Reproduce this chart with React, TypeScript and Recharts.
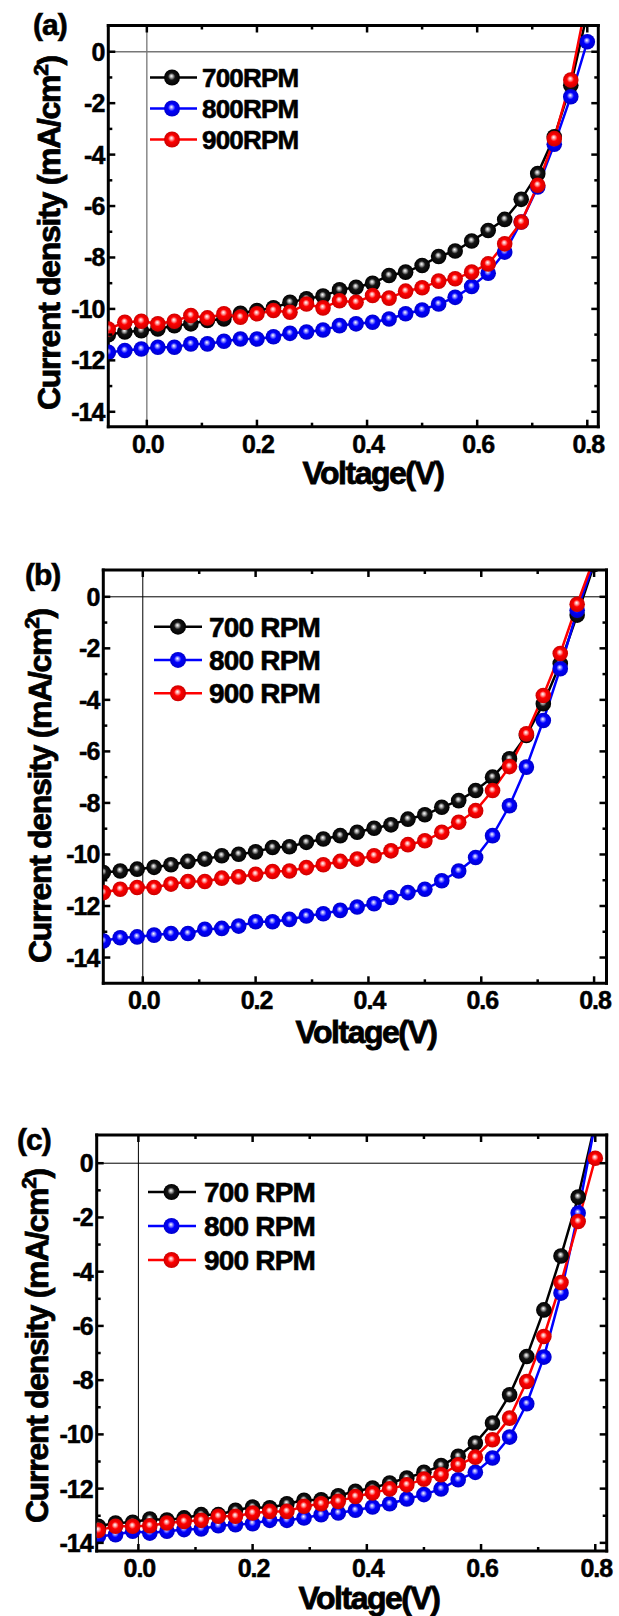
import React from 'react';
import { LineChart, Line, XAxis, YAxis, ReferenceLine, Legend } from 'recharts';

const FONT = '"Liberation Sans", Arial, Helvetica, sans-serif';

// Voltage (V) — shared x categories
const voltage = [-0.07, -0.04, -0.01, 0.02, 0.05, 0.08, 0.11, 0.14, 0.17, 0.2, 0.23, 0.26, 0.29, 0.32, 0.35, 0.38, 0.41, 0.44, 0.47, 0.5, 0.53, 0.56, 0.59, 0.62, 0.65, 0.68, 0.71, 0.74, 0.77, 0.8];

// Panel (a)
const a700 = [-11.0, -10.9, -10.85, -10.78, -10.65, -10.58, -10.45, -10.39, -10.17, -10.06, -9.96, -9.74, -9.61, -9.5, -9.26, -9.16, -9.0, -8.7, -8.57, -8.31, -7.96, -7.75, -7.36, -6.95, -6.52, -5.74, -4.74, -3.31, -1.3, 1.5];
const a800 = [-11.69, -11.62, -11.56, -11.49, -11.49, -11.36, -11.36, -11.26, -11.17, -11.17, -11.08, -10.95, -10.9, -10.82, -10.65, -10.58, -10.52, -10.39, -10.19, -10.04, -9.81, -9.55, -9.13, -8.61, -7.79, -6.62, -5.26, -3.6, -1.75, 0.39];
const a900 = [-10.78, -10.52, -10.48, -10.58, -10.48, -10.26, -10.35, -10.19, -10.32, -10.19, -10.06, -10.13, -9.81, -9.96, -9.68, -9.74, -9.48, -9.58, -9.31, -9.18, -8.92, -8.83, -8.57, -8.25, -7.47, -6.62, -5.19, -3.38, -1.1, 2.1];

// Panel (b)
const b700 = [-10.7, -10.64, -10.57, -10.5, -10.4, -10.27, -10.18, -10.05, -9.99, -9.9, -9.73, -9.7, -9.53, -9.4, -9.27, -9.14, -8.98, -8.85, -8.63, -8.46, -8.17, -7.91, -7.52, -7.0, -6.29, -5.38, -4.15, -2.59, -0.71, 1.25];
const b800 = [-13.36, -13.23, -13.2, -13.13, -13.07, -13.07, -12.9, -12.87, -12.78, -12.61, -12.61, -12.52, -12.39, -12.3, -12.17, -12.04, -11.91, -11.67, -11.48, -11.35, -11.02, -10.64, -10.12, -9.27, -8.11, -6.61, -4.8, -2.79, -0.52, 1.35];
const b900 = [-11.48, -11.35, -11.28, -11.28, -11.15, -11.05, -11.05, -10.92, -10.87, -10.77, -10.66, -10.64, -10.51, -10.4, -10.27, -10.18, -10.05, -9.86, -9.62, -9.47, -9.14, -8.75, -8.3, -7.52, -6.59, -5.32, -3.83, -2.2, -0.29, 1.5];

// Panel (c)
const c700 = [-13.39, -13.27, -13.24, -13.12, -13.16, -13.08, -12.96, -12.96, -12.8, -12.68, -12.71, -12.56, -12.43, -12.41, -12.26, -12.1, -11.98, -11.79, -11.61, -11.4, -11.15, -10.81, -10.32, -9.58, -8.54, -7.13, -5.41, -3.42, -1.25, 1.5];
const c800 = [-13.76, -13.7, -13.57, -13.64, -13.57, -13.51, -13.49, -13.37, -13.33, -13.29, -13.17, -13.17, -13.08, -12.96, -12.9, -12.8, -12.68, -12.56, -12.38, -12.22, -12.01, -11.67, -11.4, -10.87, -10.1, -8.87, -7.15, -4.79, -1.84, 1.5];
const c900 = [-13.54, -13.39, -13.39, -13.37, -13.27, -13.21, -13.17, -13.02, -13.02, -12.9, -12.84, -12.84, -12.65, -12.56, -12.47, -12.29, -12.16, -12.01, -11.86, -11.65, -11.49, -11.12, -10.84, -10.2, -9.4, -8.05, -6.39, -4.4, -2.15, 0.18];

// Tick values
const xTicks = [0, 0.1, 0.2, 0.3, 0.4, 0.5, 0.6, 0.7, 0.8];
const yTicks = [-14, -13, -12, -11, -10, -9, -8, -7, -6, -5, -4, -3, -2, -1, 0];

const namesA = ['700RPM', '800RPM', '900RPM'];
const namesBC = ['700 RPM', '800 RPM', '900 RPM'];
const colors = ['#000000', '#0000ff', '#ff0000'];
const gradIds = ['sph-k', 'sph-b', 'sph-r'];
const sphereDefs = [
  { id: 'sph-k', light: '#a8a8a8', base: '#151515', dark: '#000000' },
  { id: 'sph-b', light: '#9090ff', base: '#0000ff', dark: '#0000cc' },
  { id: 'sph-r', light: '#ffa0a0', base: '#ff0000', dark: '#cc0000' },
];

const xTitle = 'Voltage(V)';

type Plot = { left: number; top: number; right: number; bottom: number };
type Cfg = {
  tag: string;
  top: number;
  height: number;
  plot: Plot;
  xDomain: [number, number];
  yDomain: [number, number];
  series: number[][];
  names: string[];
  legend: { left: number; top: number; spacing: number; lineLen: number; markerX: number; textX: number; fontSize: number; ls: number };
  tagPos: { x: number; y: number };
  yTitlePos: { x: number; y: number };
  xTitlePos: { x: number; y: number };
  zeroColor: string;
  zeroWidth: number;
};

const panels: Cfg[] = [
  {
    tag: '(a)', top: 0, height: 540,
    plot: { left: 108.3, top: 25.5, right: 598.3, bottom: 426.7 },
    xDomain: [-0.07, 0.82], yDomain: [-14.58, 1.02],
    series: [a700, a800, a900], names: namesA,
    legend: { left: 150, top: 61.8, spacing: 31, lineLen: 47, markerX: 22, textX: 52, fontSize: 26, ls: -0.8 },
    tagPos: { x: 33, y: 35 }, yTitlePos: { x: 60, y: 233 }, xTitlePos: { x: 373, y: 484 },
    zeroColor: '#777777', zeroWidth: 1.3,
  },
  {
    tag: '(b)', top: 540, height: 560,
    plot: { left: 103.3, top: 30, right: 606.5, bottom: 443.3 },
    xDomain: [-0.07, 0.822], yDomain: [-15, 1.04],
    series: [b700, b800, b900], names: namesBC,
    legend: { left: 154, top: 70, spacing: 33.3, lineLen: 48, markerX: 24, textX: 55, fontSize: 28, ls: -0.8 },
    tagPos: { x: 25, y: 45 }, yTitlePos: { x: 51, y: 246 }, xTitlePos: { x: 366, y: 503 },
    zeroColor: '#000000', zeroWidth: 1,
  },
  {
    tag: '(c)', top: 1100, height: 516,
    plot: { left: 96.7, top: 35, right: 606.7, bottom: 451 },
    xDomain: [-0.073, 0.82], yDomain: [-14.3, 1.04],
    series: [c700, c800, c900], names: namesBC,
    legend: { left: 148, top: 74.7, spacing: 34, lineLen: 48, markerX: 23.5, textX: 56, fontSize: 28, ls: -0.8 },
    tagPos: { x: 17, y: 50 }, yTitlePos: { x: 48, y: 246 }, xTitlePos: { x: 369, y: 509 },
    zeroColor: '#000000', zeroWidth: 1,
  },
];

const TICK_FS = 25;

const BottomTick = (props: any) => {
  const { x, y, payload } = props;
  const v = payload.value as number;
  const major = Math.round(v * 10) % 2 === 0;
  return (
    <g>
      <line x1={x} y1={y} x2={x} y2={y - (major ? 7 : 4)} stroke="#000" strokeWidth={2.5} />
      {major && (
        <text x={x + 1} y={y + 26} textAnchor="middle" fontSize={TICK_FS} fontWeight="bold" fontFamily={FONT} fill="#000" stroke="#000" strokeWidth={0.5} letterSpacing={-1}>
          {v.toFixed(1)}
        </text>
      )}
    </g>
  );
};

const TopTick = (props: any) => {
  const { x, y, payload } = props;
  const v = payload.value as number;
  const major = Math.round(v * 10) % 2 === 0;
  return <line x1={x} y1={y} x2={x} y2={y + (major ? 7 : 4)} stroke="#000" strokeWidth={2.5} />;
};

const LeftTick = (props: any) => {
  const { x, y, payload } = props;
  const v = payload.value as number;
  const major = Math.abs(v) % 2 === 0;
  return (
    <g>
      <line x1={x} y1={y} x2={x + (major ? 7 : 4)} y2={y} stroke="#000" strokeWidth={2.5} />
      {major && (
        <text x={x - 4} y={y} dy="0.36em" textAnchor="end" fontSize={TICK_FS} fontWeight="bold" fontFamily={FONT} fill="#000" stroke="#000" strokeWidth={0.5} letterSpacing={-1}>
          {String(v)}
        </text>
      )}
    </g>
  );
};

const RightTick = (props: any) => {
  const { x, y, payload } = props;
  const v = payload.value as number;
  const major = Math.abs(v) % 2 === 0;
  return <line x1={x} y1={y} x2={x - (major ? 7 : 4)} y2={y} stroke="#000" strokeWidth={2.5} />;
};

const makeDot = (gid: string) => (p: any) => {
  if (p.cx == null || p.cy == null) return <g key={`d-${gid}-${p.index}`} />;
  return <circle key={`d-${gid}-${p.index}`} cx={p.cx} cy={p.cy} r={7.8} fill={`url(#${gid})`} />;
};

const makeLegend = (lg: Cfg['legend']) => (props: any) => {
  const payload = (props.payload || []) as any[];
  return (
    <svg width={220} height={lg.spacing * 3} style={{ display: 'block', overflow: 'visible' }}>
      {payload.map((item, i) => {
        const cy = lg.spacing / 2 + i * lg.spacing;
        const idx = Number(String(item.dataKey).replace('s', ''));
        return (
          <g key={`lg-${i}`}>
            <line x1={0} y1={cy} x2={lg.lineLen} y2={cy} stroke={item.color} strokeWidth={2.5} />
            <circle cx={lg.markerX} cy={cy} r={8} fill={`url(#${gradIds[idx]})`} />
            <text x={lg.textX} y={cy} dy="0.36em" fontSize={lg.fontSize} fontWeight="bold" fontFamily={FONT} fill="#000" stroke="#000" strokeWidth={0.6} letterSpacing={lg.ls}>
              {item.value}
            </text>
          </g>
        );
      })}
    </svg>
  );
};

const axisLineStyle = { stroke: '#000', strokeWidth: 3, strokeLinecap: 'square' as const };

const Panel = ({ cfg }: { cfg: Cfg }) => {
  const data = voltage.map((v, i) => ({ v, s0: cfg.series[0][i], s1: cfg.series[1][i], s2: cfg.series[2][i] }));
  const { plot } = cfg;
  return (
    <div style={{ position: 'absolute', left: 0, top: cfg.top, width: 619, height: cfg.height }}>
      <LineChart
        width={619}
        height={cfg.height}
        data={data}
        margin={{ top: 0, right: 0, bottom: 0, left: 0 }}
        style={{ fontFamily: FONT }}
      >
        <XAxis
          dataKey="v" type="number" domain={cfg.xDomain} allowDataOverflow ticks={xTicks} interval={0}
          tickSize={0} tickMargin={0} tickLine={false} tick={<BottomTick />} axisLine={axisLineStyle}
          height={cfg.height - plot.bottom}
        />
        <XAxis
          xAxisId="top" orientation="top" dataKey="v" type="number" domain={cfg.xDomain} allowDataOverflow ticks={xTicks}
          interval={0} tickSize={0} tickMargin={0} tickLine={false} tick={<TopTick />} axisLine={axisLineStyle}
          height={plot.top}
        />
        <YAxis
          type="number" domain={cfg.yDomain} allowDataOverflow ticks={yTicks} interval={0}
          tickSize={0} tickMargin={0} tickLine={false} tick={<LeftTick />} axisLine={axisLineStyle} width={plot.left}
        />
        <YAxis
          yAxisId="right" orientation="right" type="number" domain={cfg.yDomain} allowDataOverflow ticks={yTicks} interval={0}
          tickSize={0} tickMargin={0} tickLine={false} tick={<RightTick />} axisLine={axisLineStyle} width={619 - plot.right}
        />
        <ReferenceLine x={0} stroke={cfg.zeroColor} strokeWidth={cfg.zeroWidth} />
        <ReferenceLine y={0} stroke={cfg.zeroColor} strokeWidth={cfg.zeroWidth} />
        {[0, 1, 2].map((k) => (
          <Line
            key={`s${k}`}
            dataKey={`s${k}`}
            name={cfg.names[k]}
            type="linear"
            stroke={colors[k]}
            strokeWidth={2.5}
            dot={makeDot(gradIds[k])}
            activeDot={false}
            isAnimationActive={false}
          />
        ))}
        <Legend
          layout="horizontal"
          verticalAlign="middle"
          align="center"
          content={makeLegend(cfg.legend)}
          wrapperStyle={{ position: 'absolute', left: cfg.legend.left, top: cfg.legend.top, width: 220, height: cfg.legend.spacing * 3 }}
        />
      </LineChart>
      <svg width={619} height={cfg.height} style={{ position: 'absolute', left: 0, top: 0, pointerEvents: 'none' }}>
        <text x={cfg.tagPos.x} y={cfg.tagPos.y} fontSize={30} fontWeight="bold" fontFamily={FONT} fill="#000" stroke="#000" strokeWidth={0.6} letterSpacing={-1}>
          {cfg.tag}
        </text>
        <text
          transform={`translate(${cfg.yTitlePos.x},${cfg.yTitlePos.y}) rotate(-90)`}
          textAnchor="middle" fontSize={32} fontWeight="bold" fontFamily={FONT} fill="#000" stroke="#000" strokeWidth={0.8} letterSpacing={-1.3}
        >
          Current density (mA/cm<tspan dy={-12} fontSize={21}>2</tspan><tspan dy={12}>)</tspan>
        </text>
        <text x={cfg.xTitlePos.x} y={cfg.xTitlePos.y} textAnchor="middle" fontSize={32} fontWeight="bold" fontFamily={FONT} fill="#000" stroke="#000" strokeWidth={0.8} letterSpacing={-1.5}>
          {xTitle}
        </text>
      </svg>
    </div>
  );
};

export default function App() {
  return (
    <div style={{ position: 'absolute', left: 0, top: 0, width: 619, height: 1616, background: '#ffffff', overflow: 'hidden' }}>
      <svg width={0} height={0} style={{ position: 'absolute' }} aria-hidden="true">
        <defs>
          {sphereDefs.map((d) => (
            <radialGradient key={d.id} id={d.id} cx="0.5" cy="0.5" r="0.5" fx="0.46" fy="0.4">
              <stop offset="0" stopColor="#ffffff" />
              <stop offset="0.2" stopColor={d.light} />
              <stop offset="0.45" stopColor={d.base} />
              <stop offset="1" stopColor={d.dark} />
            </radialGradient>
          ))}
        </defs>
      </svg>
      {panels.map((p) => (
        <Panel key={p.tag} cfg={p} />
      ))}
    </div>
  );
}
